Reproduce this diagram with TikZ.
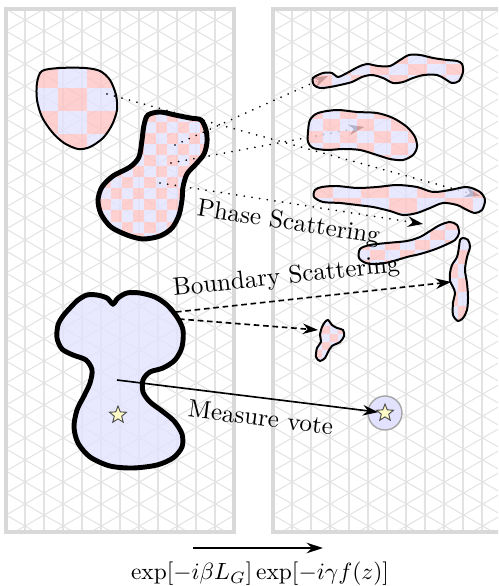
\documentclass[tikz,border=0pt]{standalone}
\usepackage{amsmath}
\usetikzlibrary{arrows.meta,shapes.geometric}
\definecolor{chkred}{RGB}{255,196,196}
\definecolor{chkblue}{RGB}{226,226,255}
\tikzset{
	frame/.style={draw=gray!30,line width=2pt},
	gridline/.style={draw=gray!22,line width=0.45pt},
	thinblob/.style={draw,line width=0.85pt},
	fatblob/.style={draw,line width=2.1pt},
	scatter/.style={line width=0.8pt,dash pattern=on 0.01pt off 3.3pt,line cap=round,-{Stealth[length=6.5pt,width=4.5pt]}},
	bscatter/.style={line width=0.7pt,dash pattern=on 2.4pt off 1.6pt,-{Stealth[length=6.5pt,width=4.5pt]}},
	vote/.style={line width=0.7pt,-{Stealth[length=6.5pt,width=4.5pt]}},
	starmark/.style={star,star points=5,star point ratio=2.3,draw=black!70,fill=yellow!22,inner sep=0pt,minimum size=7.6pt,line width=0.4pt},
	votering/.style={circle,draw=gray!70,fill=chkblue,line width=0.6pt,minimum size=14.5pt,inner sep=0pt}
}
\newcommand{\checker}[6]{%
	\foreach \i in {0,...,#5}{%
		\foreach \j in {0,...,#6}{%
			\pgfmathtruncatemacro{\cc}{mod(\i+\j,2)}%
			\ifnum\cc=0 \def\cl{chkred}\else\def\cl{chkblue}\fi
			\fill[\cl] ({#1+\i*#3},{#2+\j*#4}) rectangle ++(#3,#4);
		}}}
\newcommand{\blob}[3]{%
	\begin{scope}[fill opacity=0.8]
		\clip plot[smooth cycle] coordinates {#2};
		#3
	\end{scope}
	\draw[#1] plot[smooth cycle] coordinates {#2};
}

\begin{document}
\begin{tikzpicture}[x=0.015cm,y=-0.015cm,font=\fontsize{10.7}{13}\selectfont]
\useasboundingbox (0,0) rectangle (498,586);
\clip (0,0) rectangle (498,586);
\foreach \px in {6,273}{
\begin{scope}
	\clip (\px,9) rectangle ++(228,523);
	\foreach \k in {1,...,11} \draw[gridline] ({\px+19*\k},9) -- ++(0,523);
	\foreach \k in {-8,...,32}{
		\draw[gridline] (\px,{9+22*\k}) -- ++(228,131.6);
		\draw[gridline] (\px,{9+22*\k}) -- ++(228,-131.6);
	}
\end{scope}
\draw[frame] (\px,9) rectangle ++(228,523);
}

% sources
\blob{thinblob}{(42,71) (60,68) (85,68) (100,71) (110,80) (116,95) (117,110) (112,125) (103,138) (90,147) (78,149) (64,143) (52,132) (42,117) (37,100) (37,83)}{\checker{29}{65}{29}{23}{3}{4}}
\blob{fatblob}{(148,115) (160,112) (175,115) (190,118) (201,120) (206,130) (207,142) (204,154) (196,164) (187,174) (183,187) (182,200) (179,215) (172,228) (160,236) (143,239) (127,235) (111,227) (101,214) (98,200) (102,187) (113,176) (130,167) (139,157) (142,140) (144,125)}{\checker{100}{110.6}{11.1}{11.1}{10}{12}}
\blob{fatblob}{(70,308) (78,300) (87,295) (97,295) (107,298) (113,304) (118,298) (127,293) (140,293) (155,297) (167,305) (177,317) (183,330) (182,347) (175,360) (163,368) (150,372) (143,380) (143,392) (150,402) (162,411) (174,421) (182,434) (182,447) (173,458) (157,465) (133,468) (110,466) (90,457) (78,443) (74,427) (77,410) (84,396) (90,383) (92,370) (86,360) (73,355) (62,349) (57,338) (58,325) (63,316)}{\fill[chkblue] (50,285) rectangle (190,475);}
\node[starmark] (s1) at (118,415) {};
\node[votering] (vc) at (385,413) {};

\coordinate (pA) at (107,94);
\coordinate (pC1) at (175,145);
\coordinate (pC2) at (171,163);
\coordinate (pC3) at (160,183);
\coordinate (pD1) at (176,312);
\coordinate (pD2) at (179,319);
\coordinate (pD3) at (117,380);
\coordinate (tB1) at (328,76);
\coordinate (tB2) at (364,127);
\coordinate (tB3) at (480,196);
\coordinate (tPh) at (423,224);
\coordinate (tB5) at (451,282);
\coordinate (tB6) at (318,330);

\draw[scatter] (pA) -- (tB3);
\draw[scatter] (pC1) -- (tB1);
\draw[scatter] (pC2) -- (tB2);

% targets
\blob{thinblob}{(313,78) (323,73) (332,73) (338,77) (347,73) (358,67) (367,64) (378,66) (390,66) (400,60) (409,55) (420,55) (433,58) (447,60) (457,61) (462,64) (463,72) (459,81) (452,83) (445,79) (437,75) (424,75) (413,78) (403,82) (393,83) (383,78) (372,75) (362,77) (352,82) (340,85) (330,87) (320,88) (314,85)}{\checker{313}{53}{19}{11}{8}{3}}
\blob{thinblob}{(310,120) (318,113) (337,110) (357,112) (377,113) (393,118) (407,127) (415,137) (417,147) (413,155) (403,160) (390,159) (377,155) (360,150) (343,149) (327,150) (313,148) (308,142) (308,132)}{\checker{306}{107}{17}{12}{7}{5}}
\blob{thinblob}{(315,190) (322,187) (337,186) (357,188) (377,187) (397,185) (417,187) (433,192) (450,190) (467,187) (480,192) (485,200) (482,210) (475,213) (467,210) (457,205) (443,203) (430,208) (417,213) (403,215) (390,211) (373,207) (357,205) (340,203) (323,202) (314,197)}{\checker{305}{183}{28}{15}{6}{2}}
\blob{thinblob}{(360,249) (370,245) (387,243) (407,241) (420,237) (430,231) (440,225) (450,222) (457,225) (459,233) (455,240) (443,246) (433,250) (420,254) (407,257) (390,262) (377,264) (366,263) (359,258)}{\checker{355}{220}{15}{10}{7}{4}}
\blob{thinblob}{(463,238) (468,240) (470,247) (467,257) (465,270) (467,283) (468,297) (467,310) (463,318) (458,321) (453,315) (453,303) (455,293) (453,287) (450,281) (450,273) (452,265) (457,257) (459,247) (460,240)}{\checker{447}{236}{11}{14}{2}{6}}
\blob{thinblob}{(325,322) (328,320) (332,325) (337,328) (343,330) (344,336) (340,342) (332,346) (328,352) (325,358) (320,361) (316,357) (317,348) (321,342) (320,335) (322,327)}{\checker{314}{318}{8}{8}{4}{6}}

\node[starmark] (s2) at (385,413) {};
\draw[scatter] (pC3) -- node[midway,below=0pt,sloped] {Phase Scattering} (tPh);
\draw[bscatter] (pD1) -- node[pos=0.41,above=1pt,sloped] {Boundary Scattering} (tB5);
\draw[bscatter] (pD2) -- (tB6);
\draw[vote] (pD3) -- node[pos=0.56,below=1pt,sloped] {Measure vote} (s2);

\coordinate (ea) at (193,548);
\coordinate (eb) at (323,548);
\draw[line width=0.8pt,-{Stealth[length=7pt,width=4.5pt]}] (ea) -- (eb);
\node[font=\normalsize] (expr) at (260,574) {$\exp[-i\beta L_G]\exp[-i\gamma f(z)]$};
\end{tikzpicture}
\end{document}
